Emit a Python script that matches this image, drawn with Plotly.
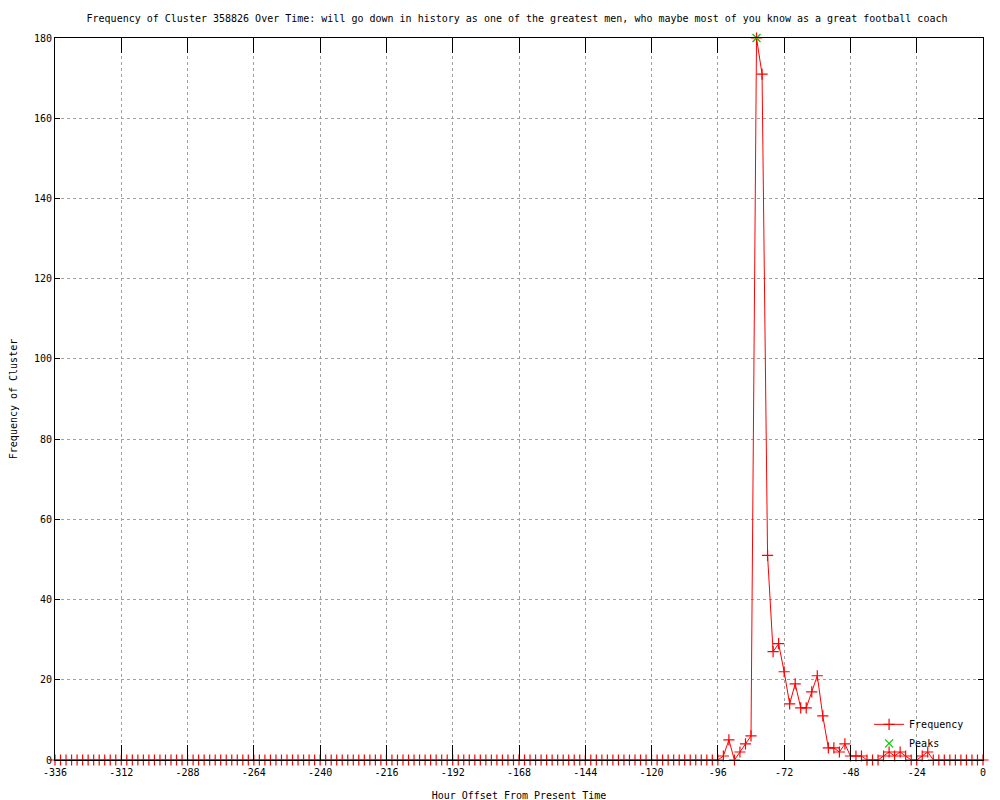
"""Cluster frequency over time, gnuplot-style line chart."""

import plotly.graph_objects as go

TITLE = ("Frequency of Cluster 358826 Over Time: will go down in history as one of the "
         "greatest men, who maybe most of you know as a great football coach")

# hour offsets, every 2 hours from -336 to 0
hours = list(range(-336, 1, 2))

# frequency per 2-hour bin
freq_early = [
    0, 0, 0, 0, 0, 0, 0, 0, 0, 0, 0, 0, 0, 0, 0, 0, 0, 0, 0, 0,
    0, 0, 0, 0, 0, 0, 0, 0, 0, 0, 0, 0, 0, 0, 0, 0, 0, 0, 0, 0,
    0, 0, 0, 0, 0, 0, 0, 0, 0, 0, 0, 0, 0, 0, 0, 0, 0, 0, 0, 0,
    0, 0, 0, 0, 0, 0, 0, 0, 0, 0, 0, 0, 0, 0, 0, 0, 0, 0, 0, 0,
    0, 0, 0, 0, 0, 0, 0, 0, 0, 0, 0, 0, 0, 0, 0, 0, 0, 0, 0, 0,
    0, 0, 0, 0, 0, 0, 0, 0, 0, 0, 0, 0, 0, 0, 0, 0, 0, 0, 0, 0,
    0,
]  # -336 .. -96
freq_late = [
    1, 5, 0, 2, 4, 6, 180, 171, 51, 27,      # -94 .. -76
    29, 22, 14, 19, 13, 13, 17, 21, 11, 3,   # -74 .. -56
    3, 2, 4, 1, 1, 1, 0, 0, 0, 1,            # -54 .. -36
    2, 1, 2, 1, 0, 0, 1, 2, 0, 0,            # -34 .. -16
    0, 0, 0, 0, 0, 0, 0, 0,                  # -14 .. 0
]
freq = freq_early + freq_late

peak_hours = [-82]
peak_values = [180]

x_ticks = [-336, -312, -288, -264, -240, -216, -192, -168, -144, -120, -96, -72, -48, -24, 0]
y_ticks = [0, 20, 40, 60, 80, 100, 120, 140, 160, 180]

FONT = "DejaVu Sans Mono"

fig = go.Figure()
fig.add_trace(go.Scatter(
    x=hours, y=freq, mode='lines+markers', name='Frequency',
    line=dict(color='#ff0000', width=1),
    marker=dict(symbol='cross-thin', size=8, color='#ff0000',
                line=dict(color='#ff0000', width=1.2)),
    cliponaxis=False,
))
fig.add_trace(go.Scatter(
    x=peak_hours, y=peak_values, mode='markers', name='Peaks',
    marker=dict(symbol='x-thin', size=8, color='#00cc00',
                line=dict(color='#00cc00', width=1.2)),
    cliponaxis=False,
))

# the page puts the plot 8px in from the top-left, so margins allow for that
fig.update_layout(
    width=1000, height=800,
    margin=dict(l=47, r=25, t=30, b=48, autoexpand=False),
    paper_bgcolor='white', plot_bgcolor='white',
    font=dict(family=FONT, size=10, color='black'),
    title=dict(text=TITLE, x=0.509, xanchor='center', y=1 - 10 / 800, yanchor='middle',
               font=dict(family=FONT, size=10, color='black'), automargin=False),
    showlegend=True,
    legend=dict(x=0.985, y=0.003, xanchor='right', yanchor='bottom',
                bgcolor='rgba(0,0,0,0)', font=dict(family=FONT, size=10),
                tracegroupgap=0, itemwidth=30),
)
fig.update_xaxes(
    range=[-336, 0], tickvals=x_ticks, ticktext=[str(v) for v in x_ticks],
    automargin=False, ticklabelstandoff=3,
    showline=True, linecolor='black', linewidth=1, mirror='ticks',
    ticks='inside', ticklen=15, tickcolor='black',
    showgrid=True, gridcolor='#a0a0a0', griddash='dot', gridwidth=1,
    zeroline=False,
    title=dict(text='Hour Offset From Present Time', standoff=14,
               font=dict(family=FONT, size=10)),
)
fig.update_yaxes(
    range=[0, 180], tickvals=y_ticks, ticktext=[str(v) for v in y_ticks],
    automargin=False,
    showline=True, linecolor='black', linewidth=1, mirror='ticks',
    ticks='inside', ticklen=5, tickcolor='black',
    showgrid=True, gridcolor='#a0a0a0', griddash='dot', gridwidth=1,
    zeroline=False,
    title=dict(text='Frequency of Cluster', standoff=14,
               font=dict(family=FONT, size=10)),
)

fig.write_html("out.html")
